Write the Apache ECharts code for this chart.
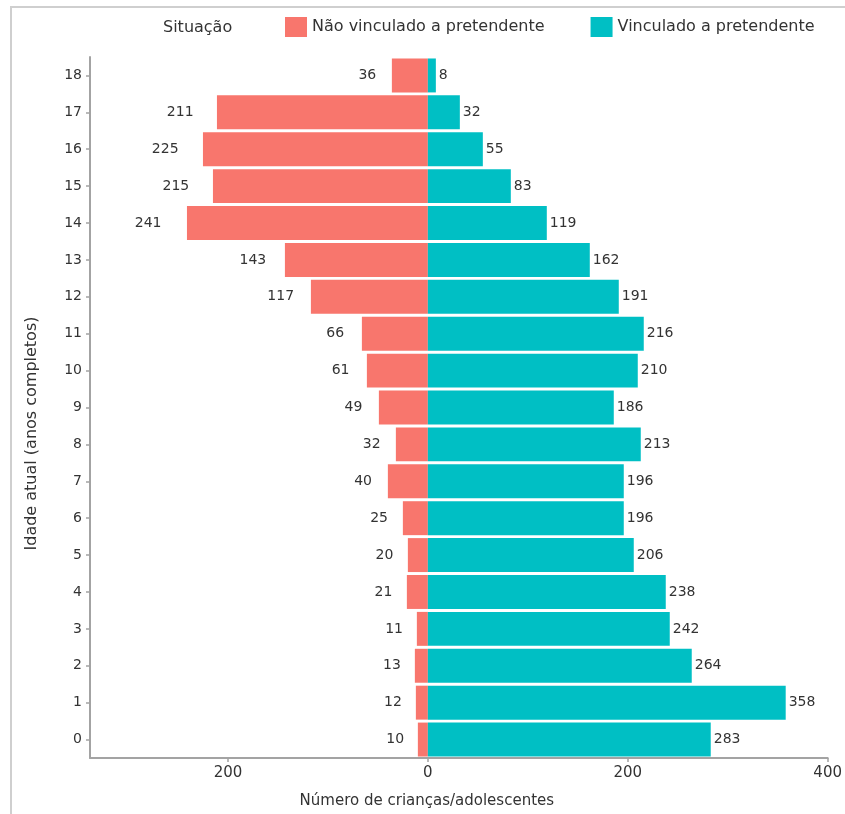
<!DOCTYPE html>
<html>
<head>
<meta charset="utf-8">
<script src="https://cdn.jsdelivr.net/npm/echarts@6/dist/echarts.min.js"></script>
<style>
  html, body { margin: 0; padding: 0; background: #fff; }
  #chart { width: 845px; height: 814px; }
</style>
</head>
<body>
<div id="chart"></div>
<script>
// Ages (years completed), bottom to top
const ages = ['0','1','2','3','4','5','6','7','8','9','10','11','12','13','14','15','16','17','18'];
// Children not linked to a prospective adopter
const naoVinculado = [10, 12, 13, 11, 21, 20, 25, 40, 32, 49, 61, 66, 117, 143, 241, 215, 225, 211, 36];
// Children linked to a prospective adopter
const vinculado = [283, 358, 264, 242, 238, 206, 196, 196, 213, 186, 210, 216, 191, 162, 119, 83, 55, 32, 8];
// Axis ticks (left side shown as absolute counts)
const xTicks = [-200, 0, 200, 400];

const FONT = 'DejaVu Sans';
const TXT = '#333333';
const AXIS = '#a3a3a3';

const chart = echarts.init(document.getElementById('chart'), null, { renderer: 'canvas' });

chart.setOption({
  animation: false,
  backgroundColor: '#ffffff',
  textStyle: { fontFamily: FONT },
  graphic: [{
    type: 'rect',
    z: -10,
    shape: { x: 11, y: 7, width: 1000, height: 1000 },
    style: { fill: 'none', stroke: '#cfcfcf', lineWidth: 2 }
  }],
  title: {
    text: 'Situação',
    left: 163,
    top: 20,
    padding: 0,
    textStyle: { fontFamily: FONT, fontSize: 16, fontWeight: 'normal', color: TXT }
  },
  legend: {
    left: 285,
    top: 17,
    padding: 0,
    itemWidth: 22,
    itemHeight: 20,
    itemGap: 46,
    icon: 'rect',
    textStyle: { fontFamily: FONT, fontSize: 16, color: TXT },
    data: ['Não vinculado a pretendente', 'Vinculado a pretendente']
  },
  grid: { left: 90, right: 16, top: 57, bottom: 56, containLabel: false },
  xAxis: {
    type: 'value',
    min: -338,
    max: 400,
    name: 'Número de crianças/adolescentes',
    nameLocation: 'middle',
    nameGap: 36,
    nameTextStyle: { fontFamily: FONT, fontSize: 15, color: TXT, padding: [0, 64, 0, 0] },
    axisLine: { show: true, onZero: false, lineStyle: { color: AXIS, width: 2 } },
    axisTick: { show: true, length: 4, customValues: xTicks, lineStyle: { color: AXIS, width: 1.5 } },
    axisLabel: {
      customValues: xTicks,
      formatter: v => String(Math.abs(v)),
      fontFamily: FONT, fontSize: 15, color: TXT, margin: 8
    },
    splitLine: { show: false }
  },
  yAxis: {
    type: 'category',
    data: ages,
    name: 'Idade atual (anos completos)',
    nameLocation: 'middle',
    nameGap: 50,
    nameTextStyle: { fontFamily: FONT, fontSize: 16, color: TXT, padding: [0, 52, 0, 0] },
    axisLine: { show: true, onZero: false, lineStyle: { color: AXIS, width: 2 } },
    axisTick: { show: true, alignWithLabel: true, length: 4, lineStyle: { color: AXIS, width: 1.5 } },
    axisLabel: { fontFamily: FONT, fontSize: 14, color: TXT, margin: 8 }
  },
  series: [
    {
      name: 'Não vinculado a pretendente',
      type: 'bar',
      barGap: '-100%',
      barCategoryGap: '8%',
      itemStyle: { color: '#F8766D' },
      data: naoVinculado.map(v => ({
        value: -v,
        label: { distance: 22 + 0.07 * v }
      })),
      label: {
        show: true,
        position: 'left',
        align: 'center',
        formatter: p => String(Math.abs(p.value)),
        fontFamily: FONT, fontSize: 14, color: TXT
      }
    },
    {
      name: 'Vinculado a pretendente',
      type: 'bar',
      barGap: '-100%',
      barCategoryGap: '8%',
      itemStyle: { color: '#00BFC4' },
      data: vinculado,
      label: {
        show: true,
        position: 'right',
        distance: 3,
        fontFamily: FONT, fontSize: 14, color: TXT
      }
    }
  ]
});
</script>
</body>
</html>
